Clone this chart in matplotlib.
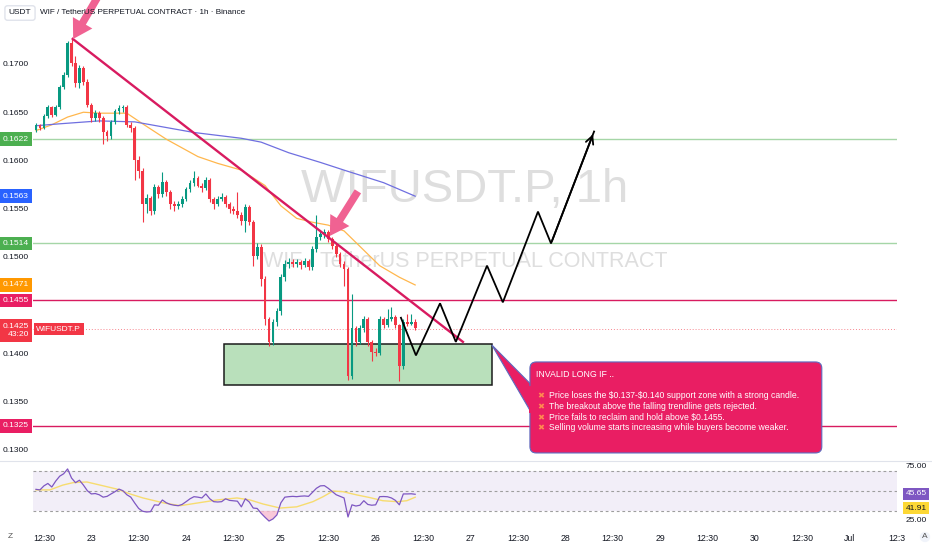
import numpy as np
import matplotlib
matplotlib.use('Agg')
import matplotlib.pyplot as plt
import matplotlib.transforms as mtransforms
from matplotlib.patches import Rectangle, FancyBboxPatch, Polygon
from matplotlib.lines import Line2D

plt.rcParams['font.family'] = ['Liberation Sans', 'DejaVu Sans']

# hourly candles (x = hours since 22 Jun 10:00)
first_open = 0.1632
closes = [0.1637, 0.1634, 0.1646, 0.1655, 0.1647, 0.1655, 0.1676, 0.1689, 0.1722, 0.1701,
          0.1680, 0.1696, 0.1681, 0.1658, 0.1644, 0.1649, 0.1644, 0.1629, 0.1625, 0.1640,
          0.1651, 0.1654, 0.1655, 0.1637, 0.1634, 0.1601, 0.1589, 0.1555, 0.1561, 0.1548,
          0.1572, 0.1565, 0.1578, 0.1567, 0.1555, 0.1553, 0.1555, 0.1560, 0.1570, 0.1577,
          0.1582, 0.1574, 0.1571, 0.1580, 0.1560, 0.1555, 0.1560, 0.1562, 0.1555, 0.1550,
          0.1548, 0.1544, 0.1537, 0.1552, 0.1536, 0.1501, 0.1510, 0.1477, 0.1436, 0.1412,
          0.1433, 0.1444, 0.1479, 0.1493, 0.1495, 0.1493, 0.1495, 0.1492, 0.1496, 0.1490,
          0.1508, 0.1521, 0.1524, 0.1526, 0.1519, 0.1511, 0.1503, 0.1493, 0.1488, 0.1377,
          0.1426, 0.1412, 0.1426, 0.1436, 0.1412, 0.1402, 0.1400, 0.1436, 0.1429, 0.1436,
          0.1438, 0.1429, 0.1387, 0.1433, 0.1431, 0.1433, 0.1426]
highs = [0.1639, 0.1638, 0.1648, 0.1657, 0.1656, 0.1657, 0.1678, 0.1692, 0.1724, 0.1726,
         0.1708, 0.1699, 0.1698, 0.1684, 0.1660, 0.1652, 0.1651, 0.1646, 0.1632, 0.1642,
         0.1653, 0.1657, 0.1658, 0.1657, 0.1640, 0.1636, 0.1605, 0.1592, 0.1565, 0.1563,
         0.1576, 0.1575, 0.1588, 0.1580, 0.1569, 0.1558, 0.1558, 0.1563, 0.1572, 0.1580,
         0.1589, 0.1584, 0.1577, 0.1583, 0.1582, 0.1562, 0.1563, 0.1566, 0.1564, 0.1557,
         0.1553, 0.1567, 0.1547, 0.1555, 0.1554, 0.1538, 0.1514, 0.1513, 0.1480, 0.1438,
         0.1436, 0.1447, 0.1482, 0.1497, 0.1499, 0.1498, 0.1498, 0.1497, 0.1499, 0.1498,
         0.1511, 0.1544, 0.1527, 0.1529, 0.1528, 0.1521, 0.1513, 0.1505, 0.1496, 0.1490,
         0.1462, 0.1428, 0.1429, 0.1439, 0.1438, 0.1414, 0.1406, 0.1439, 0.1438, 0.1446,
         0.1448, 0.1440, 0.1431, 0.1436, 0.1441, 0.1441, 0.1436]
lows = [0.1630, 0.1632, 0.1633, 0.1644, 0.1645, 0.1646, 0.1653, 0.1674, 0.1687, 0.1698,
        0.1676, 0.1675, 0.1678, 0.1655, 0.1640, 0.1641, 0.1640, 0.1617, 0.1620, 0.1622,
        0.1638, 0.1648, 0.1650, 0.1635, 0.1630, 0.1580, 0.1582, 0.1536, 0.1546, 0.1543,
        0.1545, 0.1561, 0.1562, 0.1563, 0.1550, 0.1548, 0.1550, 0.1552, 0.1558, 0.1567,
        0.1574, 0.1572, 0.1567, 0.1569, 0.1557, 0.1550, 0.1553, 0.1558, 0.1552, 0.1546,
        0.1545, 0.1540, 0.1533, 0.1526, 0.1533, 0.1491, 0.1498, 0.1470, 0.1430, 0.1408,
        0.1409, 0.1428, 0.1440, 0.1475, 0.1489, 0.1490, 0.1490, 0.1488, 0.1490, 0.1486,
        0.1487, 0.1505, 0.1518, 0.1520, 0.1515, 0.1508, 0.1500, 0.1490, 0.1470, 0.1372,
        0.1374, 0.1408, 0.1410, 0.1422, 0.1408, 0.1392, 0.1397, 0.1398, 0.1426, 0.1427,
        0.1434, 0.1426, 0.1371, 0.1384, 0.1428, 0.1429, 0.1424]
opens = [first_open] + closes[:-1]

# moving averages
ema_fast_idx = [0, 4, 8, 12, 16, 20, 23, 27, 33, 41, 46, 52, 58, 62, 66, 70, 74, 78, 82, 87, 92, 96]
ema_fast = [0.1631, 0.1637, 0.1645, 0.1650, 0.1649, 0.1649, 0.1649, 0.1638, 0.1622, 0.1604, 0.1597,
            0.1590, 0.1574, 0.1553, 0.1540, 0.1536, 0.1533, 0.1527, 0.1511, 0.1491, 0.1479, 0.1471]
ema_slow_idx = [0, 6, 16, 25, 40, 52, 57, 64, 72, 78, 88, 96]
ema_slow = [0.1636, 0.1638, 0.1641, 0.1640, 0.1629, 0.1623, 0.1619, 0.1608, 0.1598, 0.1590, 0.1577, 0.1563]

# RSI panel
rsi = [51.7, 51, 56, 59, 54.6, 62, 68, 71, 77, 65.7, 60, 63, 57, 50, 46, 46.5, 45, 42, 43, 46,
       48.8, 52, 50, 45, 42, 34.7, 28, 24.5, 23.6, 24, 32.5, 32, 38.5, 35, 33, 32, 31.4, 33, 36.4, 40,
       42.6, 42, 41, 46, 40, 36.4, 36, 36.4, 40, 38, 37.5, 37, 30, 40, 36, 28.5, 28, 22, 17, 12.4,
       15, 20, 35, 42, 42.6, 43, 42.6, 43.2, 43.5, 43, 48, 53, 56, 56.3, 53, 49, 45, 43, 41, 17.4,
       32.5, 31, 32, 37.6, 33, 32, 32.5, 42.6, 42.8, 42.5, 41, 38, 32.5, 46, 46, 46.2, 45.6]
rsi_ma_idx = [0, 3.5, 6.8, 9.4, 12.9, 16.2, 20.5, 23.8, 27.1, 32.2, 36.5, 40.8, 45.8, 50.9,
              54.2, 57.5, 61.8, 66, 70.1, 72.7, 75.2, 77.7, 81.3, 84.6, 87.8, 91.4, 93.9, 96]
rsi_ma = [51, 51, 57, 60, 60.8, 57, 52, 46, 41, 35, 31.4, 34.7, 38.5, 41,
          38.5, 33.5, 28.5, 30, 36.4, 42.6, 49.6, 48.8, 44.7, 41.4, 37.6, 36.4, 37.6, 41.9]

# drawings
levels = [0.1622, 0.1514, 0.1455, 0.1325]
level_colors = ['#a5d6a7', '#a5d6a7', '#d81b60', '#d81b60']
trend_x = [9.3, 108.1]
trend_y = [0.1726, 0.1412]
path_x = [92.4, 96.2, 102.3, 106.3, 114.2, 118.2, 127.1, 130.4, 141.3]
path_y = [0.1437, 0.1398, 0.1452, 0.1412, 0.1491, 0.1453, 0.1547, 0.1514, 0.1630]
zone_x = [47.6, 115.4]
zone_y = [0.1367, 0.1410]
last_price = 0.1425

tick_pos = [2 + 12 * k for k in range(19)]
tick_lab = ['12:30', '23', '12:30', '24', '12:30', '25', '12:30', '26', '12:30', '27',
            '12:30', '28', '12:30', '29', '12:30', '30', '12:30', 'Jul', '12:3']

bullets = ['Price loses the \\$0.137-\\$0.140 support zone with a strong candle.',
           'The breakout above the falling trendline gets rejected.',
           'Price fails to reclaim and hold above \\$0.1455.',
           'Selling volume starts increasing while buyers become weaker.']

UP = '#089981'
DN = '#f23645'

fig = plt.figure(figsize=(9.32, 5.5), dpi=100)
fig.patch.set_facecolor('white')
ax = fig.add_axes([33 / 932, 90 / 550, 864 / 932, 460 / 550])
ax2 = fig.add_axes([33 / 932, 23 / 550, 864 / 932, 65 / 550])
for a in (ax, ax2):
    for s in a.spines.values():
        s.set_visible(False)

ax.set_xlim(-0.76, 218.0)
ax.set_ylim(0.12896, 0.17663)
ax2.set_xlim(-0.76, 218.0)
ax2.set_ylim(5.0, 85.6)

# watermark
ax.text(108.6, 0.15694, 'WIFUSDT.P, 1h', fontsize=34, color='#dedede', ha='center', va='center', zorder=0)
ax.text(108.6, 0.14948, 'WIF / TetherUS PERPETUAL CONTRACT', fontsize=15.5, color='#dedede',
        ha='center', va='center', zorder=0)

# horizontal levels
for lv, col in zip(levels, level_colors):
    ax.axhline(lv, color=col, lw=1.0, zorder=1)
ax.axhline(last_price, color=DN, lw=0.7, ls=(0, (1, 2)), alpha=0.6, zorder=1)

# support zone
ax.add_patch(Rectangle((zone_x[0], zone_y[0]), zone_x[1] - zone_x[0], zone_y[1] - zone_y[0],
                       facecolor='#b9e0bb', edgecolor='#1b1b1b', lw=1.1, zorder=1.5))

# candles
t = np.arange(len(closes))
o = np.array(opens)
c = np.array(closes)
cols = [UP if cc >= oo else DN for oo, cc in zip(o, c)]
ax.vlines(t, lows, highs, colors=cols, lw=0.8, zorder=3)
ax.bar(t, np.maximum(np.abs(c - o), 0.00005), bottom=np.minimum(o, c), width=0.7,
       color=cols, zorder=3)

# moving averages
ax.plot(ema_fast_idx, ema_fast, color='#ffb74d', lw=0.9, zorder=2.5)
ax.plot(ema_slow_idx, ema_slow, color='#6f6fe0', lw=0.9, zorder=2.5)

# falling trendline
ax.plot(trend_x, trend_y, color='#d81b60', lw=1.7, zorder=4)

# projected path
ax.plot(path_x, path_y, color='black', lw=1.3, zorder=4, solid_joinstyle='miter')
ax.annotate('', xy=(path_x[-1], path_y[-1]), xytext=(path_x[-2], path_y[-2]),
            arrowprops=dict(arrowstyle='->', color='black', lw=1.3, mutation_scale=14), zorder=4)

# pink arrows
pink = dict(arrowstyle='simple,head_length=0.75,head_width=0.9,tail_width=0.3',
            color='#f06292', mutation_scale=18, lw=0, shrinkA=0, shrinkB=0)
ax.annotate('', xy=(9.4, 0.17259), xytext=(16.0, 0.17720), arrowprops=pink,
            annotation_clip=False, zorder=5)
ax.annotate('', xy=(74.4, 0.15218), xytext=(81.5, 0.15680), arrowprops=pink, zorder=5)

# callout
aspect = 3.95 / 9650
ax.add_patch(Polygon([(115.4, 0.14089), (125.6, 0.13668), (125.6, 0.13373)], closed=True,
                     facecolor='#e91e63', edgecolor='#5c6bc0', lw=0.8, zorder=5))
ax.add_patch(FancyBboxPatch((125.06, 0.12969), 73.9, 0.00943,
                            boxstyle='round,pad=0,rounding_size=1.6', mutation_aspect=aspect,
                            facecolor='#e91e63', edgecolor='#5c6bc0', lw=0.8, zorder=5))
ax.add_patch(Rectangle((124.9, 0.13380), 1.2, 0.00282, facecolor='#e91e63', lw=0, zorder=5.1))
ax.text(126.6, 0.13777, 'INVALID LONG IF ..', fontsize=6.3, color='white', va='center', zorder=6)
for k, line in enumerate(bullets):
    yy = 0.13560 - k * 0.001105
    ax.text(127.8, yy, '\u2716', fontsize=6, color='#ff8a50', ha='center', va='center', zorder=6,
            family=['DejaVu Sans'])
    ax.text(130.0, yy, line, fontsize=6.2, color='white', va='center', zorder=6)

# price scale
ax.set_yticks([0.1300, 0.1350, 0.1400, 0.1500, 0.1550, 0.1600, 0.1650, 0.1700])
ax.set_yticklabels(['0.1300', '0.1350', '0.1400', '0.1500', '0.1550', '0.1600', '0.1650', '0.1700'])
ax.tick_params(axis='y', length=0, labelsize=6.1, labelcolor='#131722', pad=3)
ax.set_xticks([])

trans = mtransforms.blended_transform_factory(ax.transAxes, ax.transData)
badges = [(0.1622, '0.1622', '#4caf50'), (0.1563, '0.1563', '#2962ff'),
          (0.1514, '0.1514', '#4caf50'), (0.1471, '0.1471', '#ff9800'),
          (0.1455, '0.1455', '#e91e63'), (0.1325, '0.1325', '#e91e63')]
for val, lab, col in badges:
    ax.text(-0.0048, val, lab, transform=trans, ha='right', va='center', fontsize=6.1, color='white',
            clip_on=False, zorder=7,
            bbox=dict(boxstyle='square,pad=0.4', facecolor=col, edgecolor='none'))
ax.text(-0.0048, last_price + 0.0007, '0.1425\n43:20', transform=trans, ha='right', va='top',
        multialignment='right', fontsize=6.1, color='white', clip_on=False, zorder=7, linespacing=1.35,
        bbox=dict(boxstyle='square,pad=0.4', facecolor=DN, edgecolor='none'))
ax.text(0.004, last_price, 'WIFUSDT.P', transform=trans, ha='left', va='center', fontsize=6,
        color='white', zorder=7, bbox=dict(boxstyle='square,pad=0.3', facecolor=DN, edgecolor='none'))

# RSI
ax2.axhspan(25, 75, color='#ede7f6', alpha=0.7, lw=0, zorder=0)
for lv in (75, 50, 25):
    ax2.axhline(lv, color='#9e9e9e', lw=0.8, ls=(0, (2.5, 2.5)), zorder=1)
r = np.array(rsi)
tr = np.arange(len(rsi))
ax2.fill_between(tr, r, 25, where=r < 25, interpolate=True, color='#f8bbd0', alpha=0.8, lw=0, zorder=1)
ax2.plot(tr, r, color='#7e57c2', lw=0.9, zorder=3)
ax2.plot(rsi_ma_idx, rsi_ma, color='#f7dc6f', lw=1.0, zorder=2)
ax2.set_yticks([])
ax2.set_xticks(tick_pos)
ax2.set_xticklabels(tick_lab)
ax2.tick_params(axis='x', length=0, labelsize=6.3, labelcolor='#131722', pad=5)

trans2 = mtransforms.blended_transform_factory(ax2.transAxes, ax2.transData)
ax2.text(1.022, 80.5, '75.00', transform=trans2, ha='center', va='center', fontsize=6,
         color='#131722', clip_on=False)
ax2.text(1.022, 13.5, '25.00', transform=trans2, ha='center', va='center', fontsize=6,
         color='#131722', clip_on=False)
ax2.text(1.022, 46.0, '45.65', transform=trans2, ha='center', va='center', fontsize=6,
         color='white', clip_on=False, zorder=7,
         bbox=dict(boxstyle='square,pad=0.3', facecolor='#7e57c2', edgecolor='none'))
ax2.text(1.022, 28.5, '41.91', transform=trans2, ha='center', va='center', fontsize=6,
         color='#131722', clip_on=False, zorder=7,
         bbox=dict(boxstyle='square,pad=0.3', facecolor='#fdd835', edgecolor='none'))

# frame pieces
fig.add_artist(Line2D([0, 1], [89 / 550, 89 / 550], color='#e0e3eb', lw=0.8))
fig.text(20 / 932, 1 - 13 / 550, 'USDT', ha='center', va='center', fontsize=6, color='#131722',
         bbox=dict(boxstyle='round,pad=0.45,rounding_size=0.3', facecolor='white', edgecolor='#e0e3eb'))
fig.text(40 / 932, 1 - 13 / 550, 'WIF / TetherUS PERPETUAL CONTRACT \u00b7 1h \u00b7 Binance',
         ha='left', va='center', fontsize=5.9, color='#131722')
fig.text(10 / 932, 1 - 537 / 550, 'Z', ha='center', va='center', fontsize=6, color='#555555')
fig.text(925 / 932, 1 - 537 / 550, 'A', ha='center', va='center', fontsize=6, color='#555555',
         bbox=dict(boxstyle='circle,pad=0.2', facecolor='#f0f3fa', edgecolor='none'))

fig.savefig('out.png', dpi=100)
